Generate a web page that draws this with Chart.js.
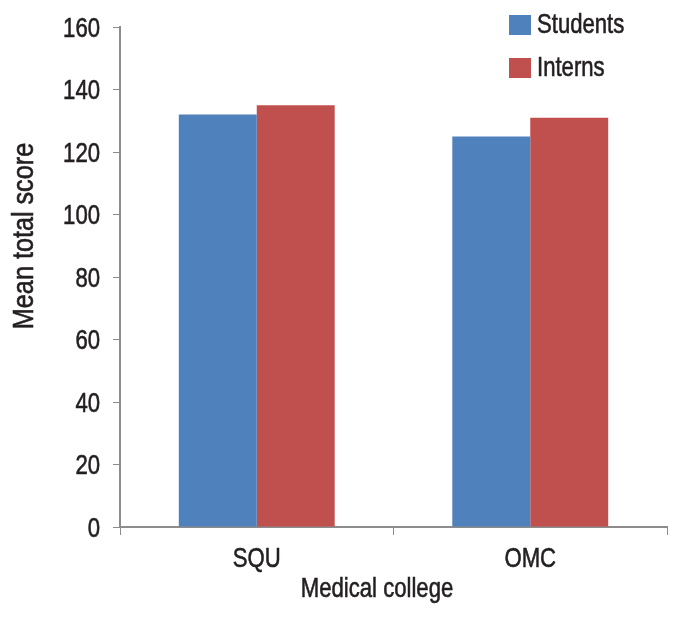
<!DOCTYPE html>
<html>
<head>
<meta charset="utf-8">
<script src="https://cdn.jsdelivr.net/npm/chart.js@4/dist/chart.umd.min.js"></script>
<style>
  html, body { margin: 0; padding: 0; background: #fff; }
  #wrap { position: relative; width: 680px; height: 620px; }
</style>
</head>
<body>
<div id="wrap">
  <canvas id="grafico" width="680" height="620"></canvas>
</div>
<script>
// --- dados ---
const categorias = ['SQU', 'OMC'];
const alunos = [132, 125];
const internos = [135, 131];
const ticksY = [0, 20, 40, 60, 80, 100, 120, 140, 160];

const FONTE = '"Liberation Sans", Arial, sans-serif';
const COR_TEXTO = '#231f20';
const COR_EIXO = '#8c8c8c';
const COR_AZUL = '#4F81BD';
const COR_VERMELHO = '#C0504D';

// texto "condensado": escala horizontal no canvas (+ contorno leve p/ peso)
function textoEstreito(ctx, txt, x, y, size, align, sx, rot) {
    ctx.save();
    ctx.translate(x, y);
    if (rot) ctx.rotate(rot);
    ctx.scale(sx, 1);
    ctx.font = size + 'px ' + FONTE;
    ctx.fillStyle = COR_TEXTO;
    ctx.strokeStyle = COR_TEXTO;
    ctx.lineWidth = 0.6;
    ctx.textAlign = align;
    ctx.textBaseline = 'middle';
    ctx.fillText(txt, 0, 0);
    ctx.strokeText(txt, 0, 0);
    ctx.restore();
}

// Plugin que escreve rótulos, títulos e legenda
const textosPlugin = {
    id: 'textosPlugin',
    afterDraw(chart) {
        const { ctx, scales: { x, y } } = chart;
        ticksY.forEach(v => textoEstreito(ctx, String(v), 100, y.getPixelForValue(v) + 2, 28, 'right', 0.79));
        categorias.forEach((c, i) => textoEstreito(ctx, c, x.getPixelForValue(i), 559, 28, 'center', 0.79));
        textoEstreito(ctx, 'Medical college', 377, 589, 28, 'center', 0.79);
        textoEstreito(ctx, 'Mean total score', 25, 236, 30, 'center', 0.84, -Math.PI / 2);

        // legenda
        chart.data.datasets.forEach((ds, i) => {
            const top = 15 + i * 43;
            ctx.fillStyle = ds.backgroundColor;
            ctx.fillRect(509, top, 22, 20);
            textoEstreito(ctx, ds.label, 537, top + 10, 28, 'left', 0.79);
        });
    }
};

new Chart(document.getElementById('grafico'), {
    type: 'bar',
    data: {
        labels: categorias,
        datasets: [
            { label: 'Students', data: alunos, backgroundColor: COR_AZUL },
            { label: 'Interns', data: internos, backgroundColor: COR_VERMELHO }
        ]
    },
    options: {
        responsive: false,
        animation: false,
        layout: { padding: { top: 27, right: 13, left: 0, bottom: 0 } },
        datasets: { bar: { categoryPercentage: 0.57, barPercentage: 1.0 } },
        plugins: { legend: { display: false }, tooltip: { enabled: false } },
        scales: {
            x: {
                grid: { drawOnChartArea: false, drawTicks: true, tickLength: 8, color: COR_EIXO, offset: true },
                border: { display: true, color: COR_EIXO, width: 2 },
                ticks: { display: false },
                afterFit: (s) => { s.height = 93; }
            },
            y: {
                min: 0, max: 160,
                afterBuildTicks: (s) => { s.ticks = ticksY.map(v => ({ value: v })); },
                grid: { drawOnChartArea: false, drawTicks: true, tickLength: 7, color: COR_EIXO },
                border: { display: true, color: COR_EIXO, width: 2 },
                ticks: { display: false },
                afterFit: (s) => { s.width = 120; }
            }
        }
    },
    plugins: [textosPlugin]
});
</script>
</body>
</html>
